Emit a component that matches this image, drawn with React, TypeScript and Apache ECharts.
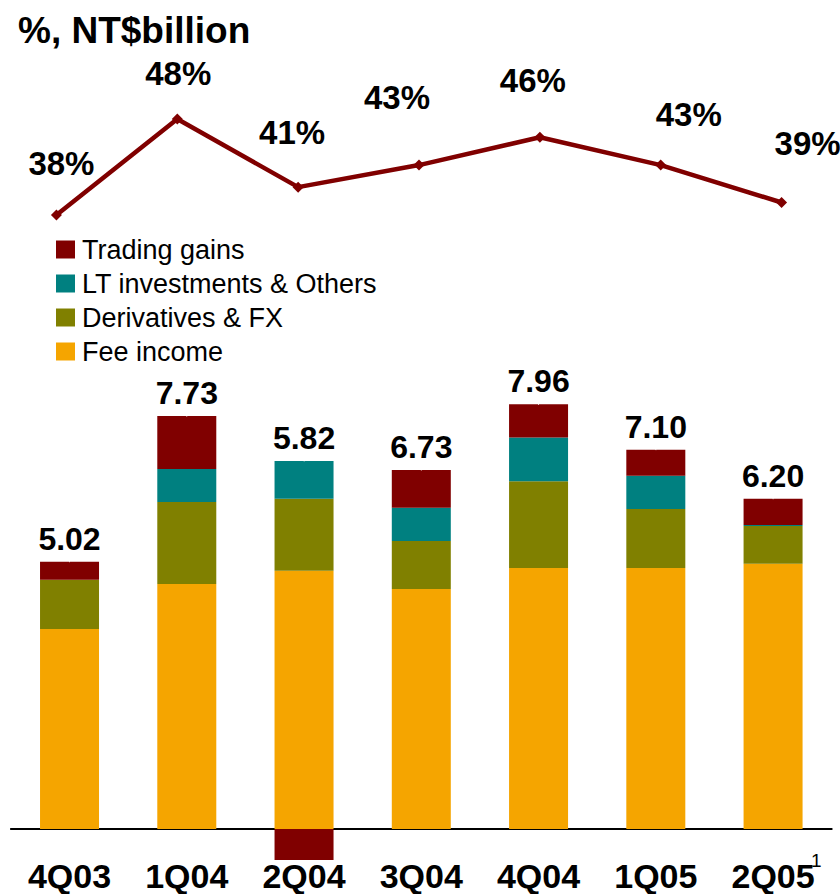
import React, { useEffect, useRef } from "react";
import * as echarts from "echarts";

const categories = ["4Q03", "1Q04", "2Q04", "3Q04", "4Q04", "1Q05", "2Q05"];
const feeIncome = [3.75, 4.59, 4.84, 4.5, 4.89, 4.89, 4.97];
const derivativesFX = [0.92, 1.54, 1.35, 0.9, 1.63, 1.11, 0.71];
const ltInvestments = [0, 0.62, 0.71, 0.62, 0.82, 0.62, 0.02];
const tradingGains = [0.34, 0.99, -0.58, 0.71, 0.62, 0.49, 0.49];
const totalLabels = ["5.02", "7.73", "5.82", "6.73", "7.96", "7.10", "6.20"];
const ratioPct = [38, 48, 40.9, 43.2, 46.1, 43.2, 39.3];

const FONT = "'Liberation Sans', Arial, sans-serif";
const C_TRADING = "#800000";
const C_LT = "#008080";
const C_DERIV = "#808000";
const C_FEE = "#F5A500";

// label offsets for the ratio line labels (dx, dy) relative to default 'top'
const ratioLabelOffsets = [
  [5, -30],
  [1, -24],
  [-6, -33],
  [-22, -46],
  [-7, -35],
  [28, -29],
  [26, -37],
];

export default function App() {
  const ref = useRef<HTMLDivElement>(null);
  useEffect(() => {
    if (!ref.current) return;
    const chart = echarts.init(ref.current, undefined, { renderer: "svg" });
    const positiveTop = categories.map(
      (_, i) =>
        feeIncome[i] + derivativesFX[i] + ltInvestments[i] + Math.max(tradingGains[i], 0)
    );
    const barBase = {
      type: "bar",
      stack: "total",
      barWidth: 59,
      xAxisIndex: 0,
      yAxisIndex: 0,
    };
    chart.setOption({
      animation: false,
      backgroundColor: "#fff",
      textStyle: { fontFamily: FONT },
      title: {
        text: "%, NT$billion",
        left: 18,
        top: 12,
        padding: 0,
        textStyle: {
          fontFamily: FONT,
          fontSize: 37,
          fontWeight: "bold",
          color: "#000",
          lineHeight: 37,
        },
      },
      legend: {
        orient: "vertical",
        left: 56,
        top: 236,
        padding: 0,
        itemWidth: 19,
        itemHeight: 18,
        itemGap: 7,
        icon: "rect",
        data: ["Trading gains", "LT investments & Others", "Derivatives & FX", "Fee income"],
        textStyle: {
          fontFamily: FONT,
          fontSize: 27,
          lineHeight: 27,
          color: "#000",
          padding: [0, 0, 0, 2],
        },
      },
      grid: [
        { left: 10.9, right: 8.3, top: 402.2, bottom: 33, outerBoundsMode: "none", containLabel: false },
        { left: -4, right: -2, top: 99.8, bottom: 602.2, outerBoundsMode: "none", containLabel: false },
      ],
      xAxis: [
        {
          type: "category",
          gridIndex: 0,
          data: categories,
          axisTick: { show: false },
          axisLine: { onZero: true, lineStyle: { color: "#000", width: 2 } },
          axisLabel: {
            interval: 0,
            margin: 3,
            fontFamily: FONT,
            fontSize: 34,
            lineHeight: 24,
            fontWeight: "bold",
            color: "#000",
          },
        },
        {
          type: "category",
          gridIndex: 1,
          data: categories,
          show: false,
        },
      ],
      yAxis: [
        { type: "value", gridIndex: 0, min: -0.6, max: 8, show: false },
        { type: "value", gridIndex: 1, min: 30, max: 50, show: false },
      ],
      series: [
        { ...barBase, name: "Fee income", data: feeIncome, itemStyle: { color: C_FEE } },
        { ...barBase, name: "Derivatives & FX", data: derivativesFX, itemStyle: { color: C_DERIV } },
        { ...barBase, name: "LT investments & Others", data: ltInvestments, itemStyle: { color: C_LT } },
        { ...barBase, name: "Trading gains", data: tradingGains, itemStyle: { color: C_TRADING } },
        {
          type: "scatter",
          name: "totals",
          xAxisIndex: 0,
          yAxisIndex: 0,
          data: positiveTop,
          symbolSize: 1,
          itemStyle: { color: "#ffffff", opacity: 1 },
          silent: true,
          z: 10,
          label: {
            show: true,
            position: "top",
            distance: 7,
            fontFamily: FONT,
            fontSize: 32,
            lineHeight: 31,
            fontWeight: "bold",
            color: "#000",
            opacity: 1,
            formatter: (p: any) => totalLabels[p.dataIndex],
          },
        },
        {
          type: "line",
          name: "ratio",
          xAxisIndex: 1,
          yAxisIndex: 1,
          data: ratioPct.map((v, i) => ({
            value: v,
            label: { offset: ratioLabelOffsets[i] },
          })),
          symbol: "diamond",
          symbolSize: 11,
          lineStyle: { color: C_TRADING, width: 4.5 },
          itemStyle: { color: C_TRADING },
          label: {
            show: true,
            position: "top",
            distance: 0,
            fontFamily: FONT,
            fontSize: 33,
            lineHeight: 33,
            fontWeight: "bold",
            color: "#000",
            formatter: (p: any) => Math.round(p.value) + "%",
          },
        },
      ],
      graphic: [
        {
          type: "text",
          left: 811,
          top: 851,
          style: { text: "1", fontFamily: FONT, fontSize: 19, fill: "#000" },
        },
      ],
    });
    return () => chart.dispose();
  }, []);
  return (
    <div
      ref={ref}
      style={{ position: "absolute", left: 0, top: 0, width: 840, height: 894 }}
    />
  );
}
